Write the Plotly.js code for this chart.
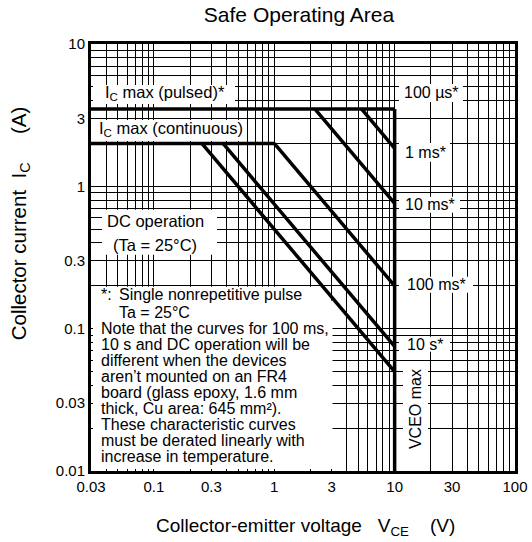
<!DOCTYPE html>
<html>
<head>
<meta charset="utf-8">
<script src="https://cdn.plot.ly/plotly-3.0.1.min.js"></script>
<style>html,body{margin:0;padding:0;background:#fff;}#chart{width:532px;height:542px;}</style>
</head>
<body>
<div id="chart"></div>
<script>
// ---- data ----
const xTickVals = [0.03, 0.1, 0.3, 1, 3, 10, 30, 100];
const xTickText = ['0.03', '0.1', '0.3', '1', '3', '10', '30', '100'];
const yTickVals = [0.01, 0.03, 0.1, 0.3, 1, 3, 10];
const yTickText = ['0.01', '0.03', '0.1', '0.3', '1', '3', '10'];

const pulsedV = [0.03, 10],  pulsedI = [3.5, 3.5];     // IC max (pulsed) / 100 us
const contV   = [0.03, 1.0], contI   = [2, 2];         // IC max (continuous)
const vceoV   = [10, 10],    vceoI   = [3.5, 0.01];    // VCEO max
const ms1V    = [5.3, 10],   ms1I    = [3.5, 1.85];    // 1 ms
const ms10V   = [2.17, 10],  ms10I   = [3.5, 0.76];    // 10 ms
const ms100V  = [1.0, 10],   ms100I  = [2, 0.2];       // 100 ms
const s10V    = [0.375, 10], s10I    = [2, 0.075];     // 10 s
const dcV     = [0.25, 10],  dcI     = [2, 0.05];      // DC operation

// ---- layout helpers ----
const FONT = 'Liberation Sans, Arial, Helvetica, sans-serif';
const W = 532, H = 542;
const L = 91, R = 515, T = 44, B = 471.5;
const px = x => (x - L) / (R - L);
const py = y => (B - y) / (B - T);

function minorVals(kFrom, kTo) {
  const v = [];
  for (let k = kFrom; k <= kTo; k++) for (let d = 2; d <= 9; d++) v.push(+(d * Math.pow(10, k)).toPrecision(3));
  return v;
}

const line = (x, y) => ({x: x, y: y, type: 'scatter', mode: 'lines', line: {color: '#000', width: 3.5}, hoverinfo: 'skip', showlegend: false});
const traces = [
  line(pulsedV, pulsedI), line(contV, contI), line(vceoV, vceoI),
  line(ms1V, ms1I), line(ms10V, ms10I), line(ms100V, ms100I), line(s10V, s10I), line(dcV, dcI)
];

// white label backgrounds (they hide the grid; none of them touches a curve)
function bg(x0, y0, x1, y1) {
  return {type: 'rect', xref: 'paper', yref: 'paper', x0: px(x0), x1: px(x1), y0: py(y1), y1: py(y0),
          fillcolor: '#fff', line: {width: 0}, layer: 'above'};
}
// note panel: outline kept clear of the DC curve at its top-right corner
function notePath(pts) {
  return {type: 'path', xref: 'paper', yref: 'paper', fillcolor: '#fff', line: {width: 0}, layer: 'above',
          path: 'M' + pts.map(p => px(p[0]) + ',' + py(p[1])).join('L') + 'Z'};
}
const shapes = [
  bg(93, 85, 235, 104),      // IC max pulsed
  bg(93, 120, 247, 141),     // IC max continuous
  bg(102, 210, 217, 255),    // DC operation
  notePath([[93, 287], [319, 287], [332.5, 302], [332.5, 469.5], [93, 469.5]]),
  bg(399, 84, 463, 102),     // 100 us
  bg(399, 143, 450, 162),    // 1 ms
  bg(399, 197, 460, 213),    // 10 ms
  bg(399, 277, 473, 293),    // 100 ms
  bg(399, 337, 450, 352),    // 10 s
  bg(403, 362, 428, 457)     // VCEO max
];

function txt(text, x, y, opts) {
  return Object.assign({xref: 'paper', yref: 'paper', x: px(x), y: py(y), text: text, showarrow: false,
    xanchor: 'center', yanchor: 'middle', font: {family: FONT, size: 16, color: '#000'}}, opts || {});
}
const S = '\u00A0';
const lblFont = {family: FONT, size: 16.5, color: '#000'};
const annotations = [
  txt('I<sub>C</sub> max (pulsed)*', 165, 93, {font: lblFont}),
  txt('I<sub>C</sub> max (continuous)', 170.5, 129, {font: lblFont}),
  txt('DC operation', 155, 221.5, {font: lblFont}),
  txt('(Ta = 25°C)', 155, 245, {font: lblFont}),
  txt('100 µs*', 431, 93),
  txt('1 ms*', 425, 152.5),
  txt('10 ms*', 430, 205),
  txt('100 ms*', 436.5, 285),
  txt('10 s*', 425, 344.5),
  txt('VCEO max', 415.5, 410, {textangle: -90}),
  // note
  txt('*:', 99, 294.5, {xanchor: 'left'}),
  txt('Single nonrepetitive pulse', 117, 294.5, {xanchor: 'left'}),
  txt('Ta = 25°C', 117, 312.5, {xanchor: 'left'}),
  txt('Note that the curves for 100 ms,', 99, 329, {xanchor: 'left'}),
  txt('10 s and DC operation will be', 99, 344.5, {xanchor: 'left'}),
  txt('different when the devices', 99, 360.7, {xanchor: 'left'}),
  txt('aren’t mounted on an FR4', 99, 376.8, {xanchor: 'left'}),
  txt('board (glass epoxy, 1.6 mm', 99, 393, {xanchor: 'left'}),
  txt('thick, Cu area: 645 mm²).', 99, 409, {xanchor: 'left'}),
  txt('These characteristic curves', 99, 425, {xanchor: 'left'}),
  txt('must be derated linearly with', 99, 441, {xanchor: 'left'}),
  txt('increase in temperature.', 99, 457, {xanchor: 'left'}),
  // axis titles
  txt('Collector-emitter voltage' + S + S + S + 'V<sub>CE</sub>' + S + S + S + S + '(V)', 305, 528, {font: {family: FONT, size: 19, color: '#000'}}),
  txt('Collector current' + S + S + 'I<sub>C</sub>' + S + S + S + S + S + '(A)', 20, 223.5, {textangle: -90, font: {family: FONT, size: 20.5, color: '#000'}})
];

const axisCommon = {
  type: 'log', tickmode: 'array', ticks: '', showline: true, linewidth: 3, linecolor: '#000', mirror: true,
  showgrid: true, gridcolor: '#000', gridwidth: 1, zeroline: false, fixedrange: true,
  tickfont: {family: FONT, size: 15, color: '#000'}
};

const layout = {
  width: W, height: H, autosize: false,
  margin: {l: L, r: W - R, t: T, b: H - B, pad: 0},
  paper_bgcolor: '#fff', plot_bgcolor: '#fff',
  font: {family: FONT, color: '#000'},
  title: {text: 'Safe Operating Area', font: {family: FONT, size: 21, color: '#000'},
          xref: 'paper', x: px(299), xanchor: 'center', yref: 'container', y: 1 - 15 / H, yanchor: 'middle'},
  xaxis: Object.assign({}, axisCommon, {
    range: [Math.log10(0.03), 2], tickvals: xTickVals, ticktext: xTickText,
    minor: {tickmode: 'array', tickvals: minorVals(-2, 1), showgrid: true, gridcolor: '#000', gridwidth: 1, ticks: ''}
  }),
  yaxis: Object.assign({}, axisCommon, {
    range: [-2, 1], tickvals: yTickVals, ticktext: yTickText,
    minor: {tickmode: 'array', tickvals: minorVals(-2, 0), showgrid: true, gridcolor: '#000', gridwidth: 1, ticks: ''}
  }),
  shapes: shapes,
  annotations: annotations,
  showlegend: false
};

Plotly.newPlot('chart', traces, layout, {staticPlot: true, displayModeBar: false});
</script>
</body>
</html>
